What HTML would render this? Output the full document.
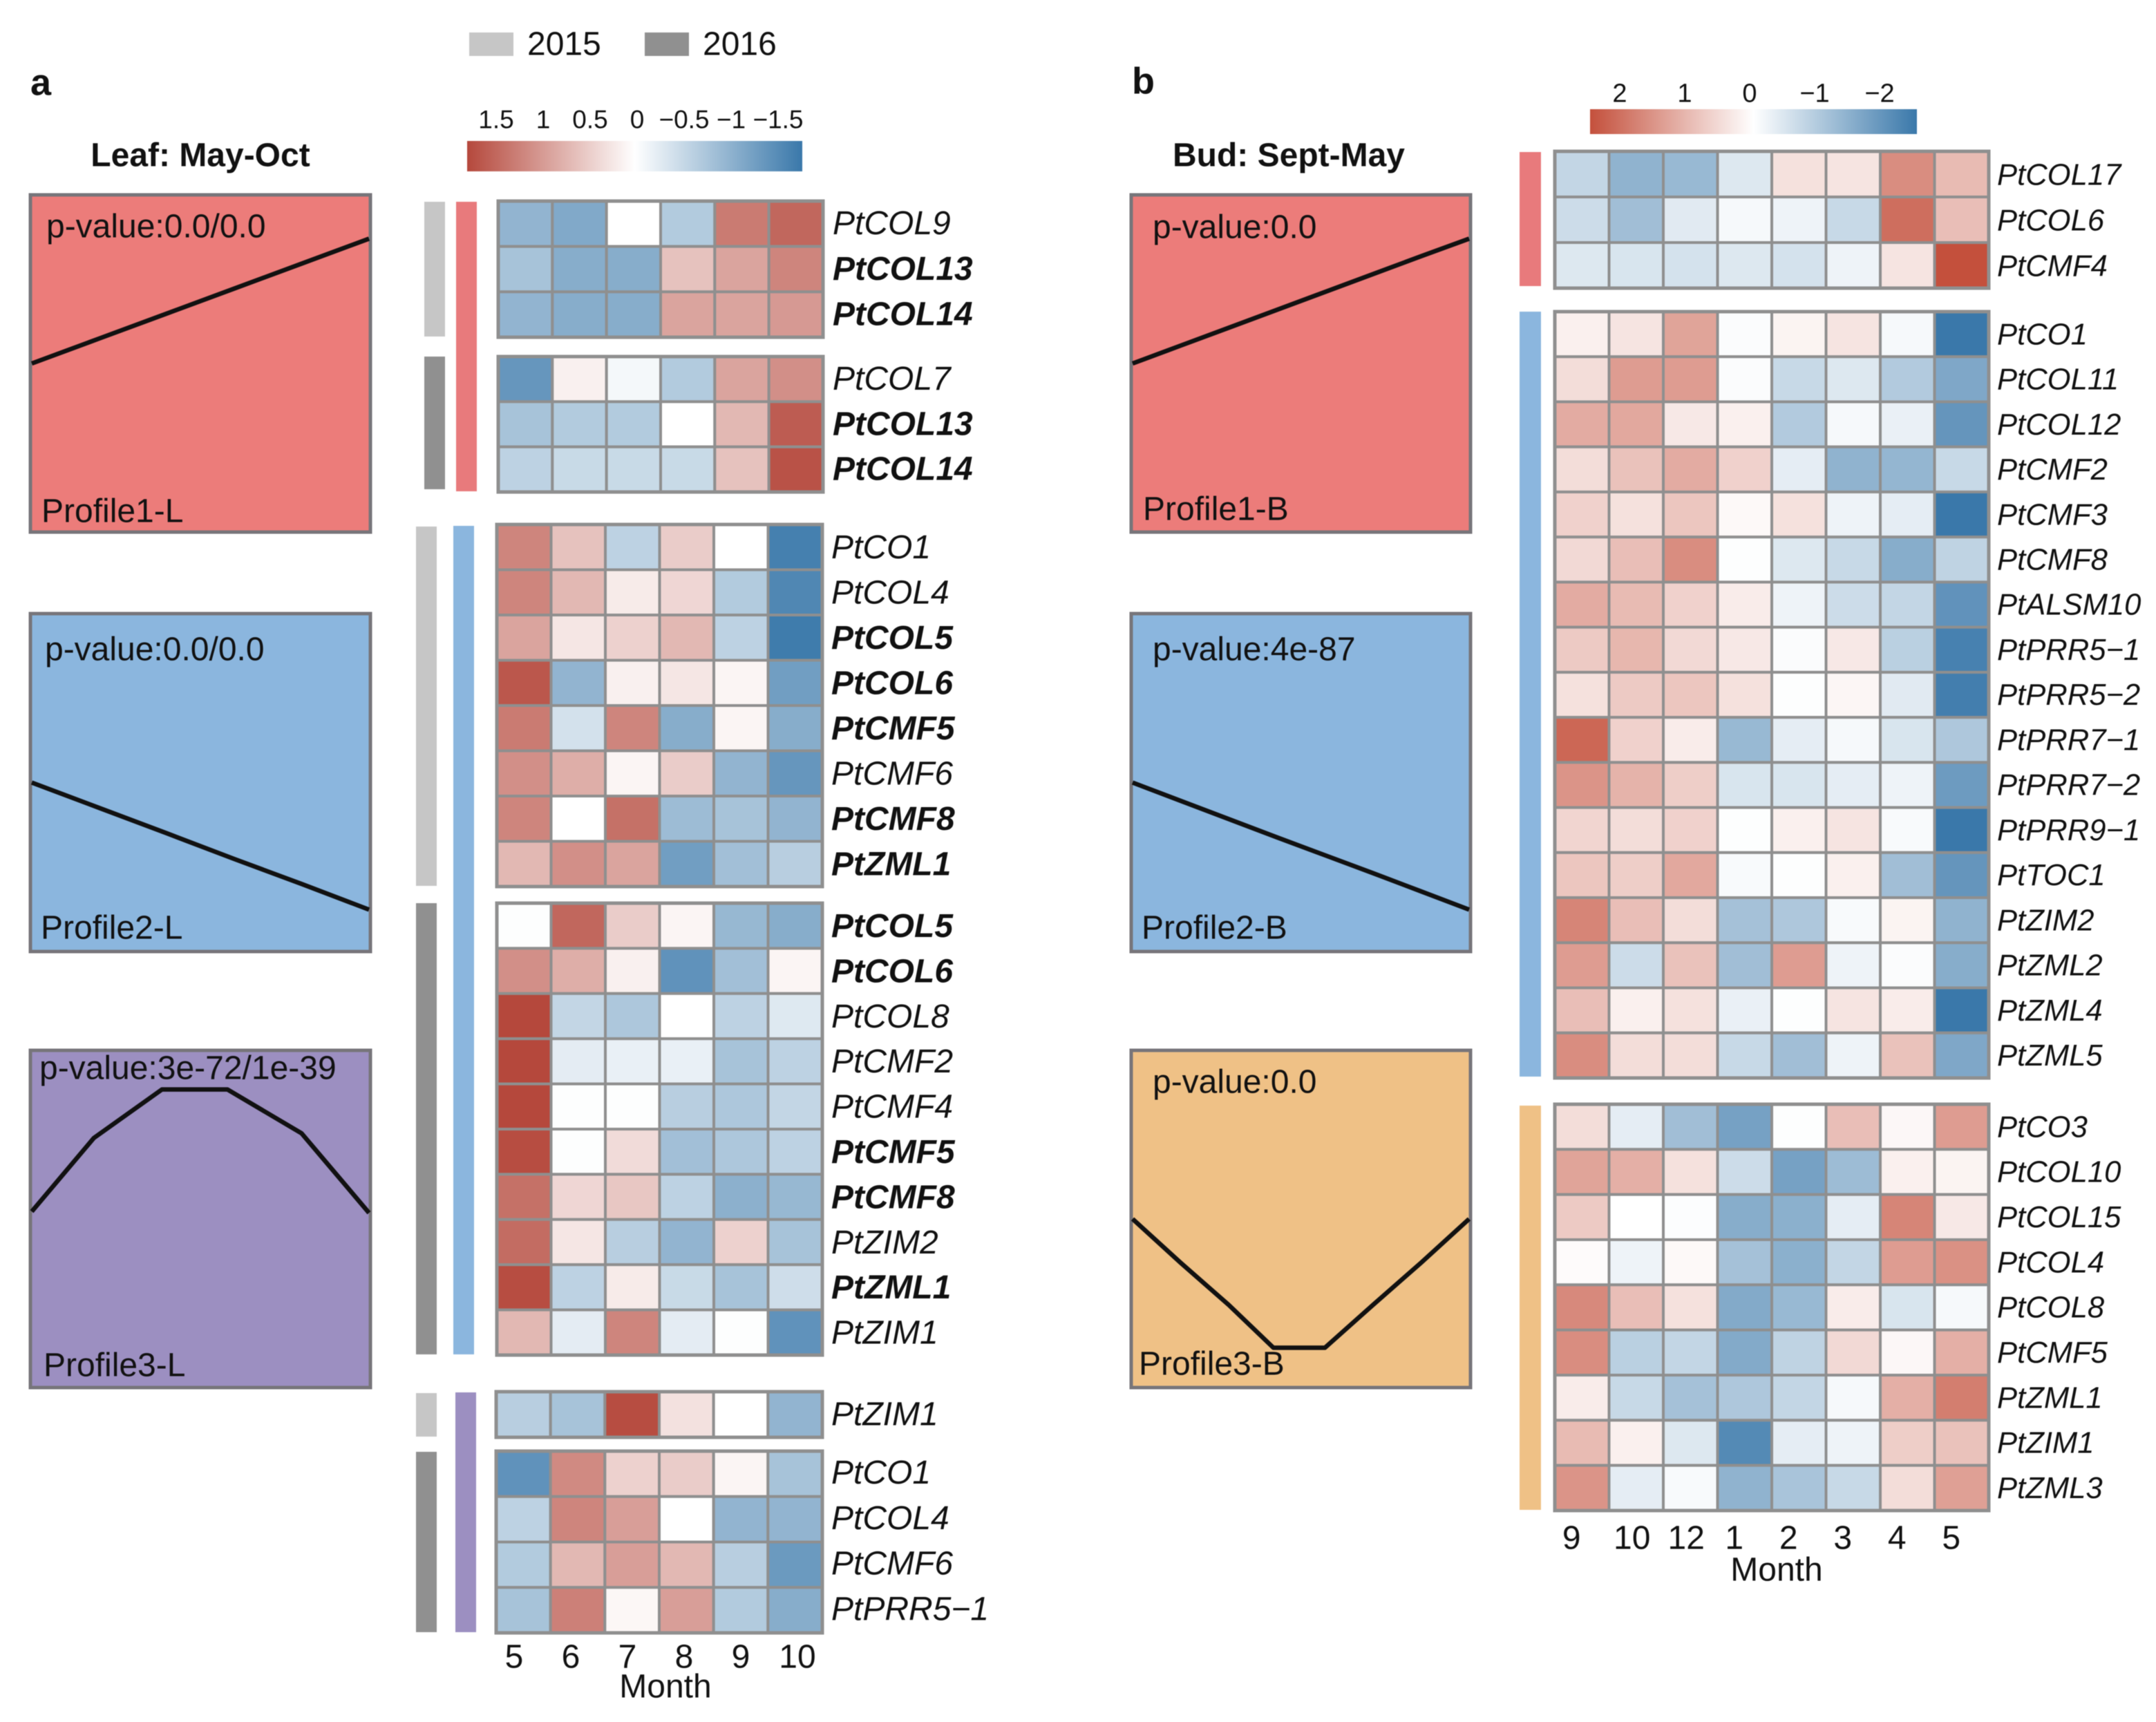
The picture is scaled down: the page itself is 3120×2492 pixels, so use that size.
<!DOCTYPE html>
<html lang="en">
<head>
<meta charset="utf-8">
<title>Clock gene expression heatmaps</title>
<style>
html,body{margin:0;padding:0;background:#fff;}
#chart{display:block;width:3120px;height:2492px;font-family:"Liberation Sans",sans-serif;filter:blur(0.6px);}
</style>
</head>
<body>
<svg id="chart" xmlns="http://www.w3.org/2000/svg" width="3120" height="2492" viewBox="0 0 3120 2492"></svg>
<script>
/* ---------- months ---------- */
const leafMonths = ["5","6","7","8","9","10"];
const budMonths = ["9","10","12","1","2","3","4","5"];

/* ---------- colour-bar ticks ---------- */
const leafScaleTicks = [1.5,1,0.5,0,-0.5,-1,-1.5];
const leafScaleLabels = ["1.5","1","0.5","0","\u22120.5","\u22121","\u22121.5"];
const budScaleTicks = [2,1,0,-1,-2];
const budScaleLabels = ["2","1","0","\u22121","\u22122"];

/* ---------- profile curves (0 = box bottom, 1 = box top) ---------- */
const profileRiseLeaf = [0.5,0.574,0.648,0.722,0.796,0.87];
const profileFallLeaf = [0.5,0.425,0.35,0.274,0.2,0.124];
const profileHumpLeaf = [0.522,0.74,0.884,0.884,0.754,0.518];
const profileHumpTime = [0,0.92,1.93,2.9,4,5];
const profileRiseBud = [0.5,0.553,0.606,0.659,0.712,0.765,0.818,0.87];
const profileFallBud = [0.5,0.446,0.392,0.338,0.285,0.232,0.178,0.124];
const profileDipBud = [0.5,0.37,0.245,0.118,0.118,0.245,0.37,0.5];
const profileDipTime = [0,1,2,2.93,4,5,6,7];

/* ---------- leaf panel ---------- */
const leafG1Genes = ["PtCOL9","*PtCOL13","*PtCOL14"];
const leafG1Values = [
 [-1.0,-1.15,0,-0.7,1.3,1.5],
 [-0.8,-1.1,-1.1,0.6,0.9,1.2],
 [-1.0,-1.1,-1.1,0.9,0.9,1.0]];
const leafG2Genes = ["PtCOL7","*PtCOL13","*PtCOL14"];
const leafG2Values = [
 [-1.4,0.15,-0.1,-0.7,0.9,1.1],
 [-0.8,-0.7,-0.7,0,0.7,1.6],
 [-0.6,-0.5,-0.5,-0.5,0.6,1.7]];
const leafG3Genes = ["PtCO1","PtCOL4","*PtCOL5","*PtCOL6","*PtCMF5","PtCMF6","*PtCMF8","*PtZML1"];
const leafG3Values = [
 [1.2,0.6,-0.6,0.5,0,-1.7],
 [1.2,0.7,0.2,0.4,-0.7,-1.6],
 [0.9,0.25,0.45,0.7,-0.6,-1.75],
 [1.65,-1.0,0.15,0.25,0.1,-1.3],
 [1.3,-0.4,1.2,-1.1,0.1,-1.1],
 [1.1,0.8,0.1,0.5,-1.0,-1.4],
 [1.2,0,1.4,-0.9,-0.8,-1.0],
 [0.7,1.1,0.9,-1.3,-0.85,-0.65]];
const leafG4Genes = ["*PtCOL5","*PtCOL6","PtCOL8","PtCMF2","PtCMF4","*PtCMF5","*PtCMF8","PtZIM2","*PtZML1","PtZIM1"];
const leafG4Values = [
 [-0.02,1.5,0.5,0.1,-0.95,-1.1],
 [1.1,0.8,0.15,-1.45,-0.85,0.1],
 [1.8,-0.55,-0.75,0,-0.6,-0.3],
 [1.8,-0.25,-0.2,-0.2,-0.8,-0.6],
 [1.8,-0.02,-0.02,-0.65,-0.75,-0.55],
 [1.75,-0.02,0.35,-0.85,-0.75,-0.6],
 [1.4,0.4,0.55,-0.6,-1.05,-0.95],
 [1.45,0.25,-0.65,-1.0,0.45,-0.8],
 [1.75,-0.6,0.2,-0.5,-0.8,-0.45],
 [0.7,-0.25,1.2,-0.25,-0.02,-1.45]];
const leafG5Genes = ["PtZIM1"];
const leafG5Values = [
 [-0.65,-0.8,1.75,0.3,0,-1.0]];
const leafG6Genes = ["PtCO1","PtCOL4","PtCMF6","PtPRR5\u22121"];
const leafG6Values = [
 [-1.45,1.15,0.45,0.5,0.1,-0.8],
 [-0.6,1.2,0.95,0,-1.0,-1.0],
 [-0.7,0.7,0.95,0.7,-0.65,-1.35],
 [-0.8,1.25,0.08,0.95,-0.7,-1.1]];

/* ---------- bud panel ---------- */
const budG1Genes = ["PtCOL17","PtCOL6","PtCMF4"];
const budG1Values = [
 [-0.7,-1.3,-1.2,-0.4,0.4,0.35,1.5,0.9],
 [-0.6,-1.1,-0.35,-0.1,-0.2,-0.65,1.9,0.85],
 [-0.4,-0.45,-0.5,-0.4,-0.5,-0.2,0.35,2.4]];
const budG2Genes = ["PtCO1","PtCOL11","PtCOL12","PtCMF2","PtCMF3","PtCMF8","PtALSM10","PtPRR5\u22121","PtPRR5\u22122","PtPRR7\u22121","PtPRR7\u22122","PtPRR9\u22121","PtTOC1","PtZIM2","PtZML2","PtZML4","PtZML5"];
const budG2Values = [
 [0.2,0.35,1.2,-0.05,0.15,0.35,-0.1,-2.3],
 [0.45,1.3,1.3,-0.05,-0.65,-0.4,-0.9,-1.5],
 [1.1,1.15,0.3,0.2,-0.9,-0.1,-0.25,-1.8],
 [0.45,0.8,1.1,0.6,-0.3,-1.3,-1.25,-0.65],
 [0.6,0.4,0.75,0.08,0.4,-0.2,-0.3,-2.3],
 [0.5,0.85,1.5,-0.02,-0.4,-0.65,-1.4,-0.75],
 [1.1,0.9,0.6,0.25,-0.2,-0.6,-0.7,-1.85],
 [0.7,0.95,0.5,0.3,-0.05,0.3,-0.8,-2.15],
 [0.4,0.7,0.75,0.4,-0.02,0.12,-0.35,-2.2],
 [2.0,0.6,0.25,-1.2,-0.3,-0.1,-0.45,-0.95],
 [1.4,1.0,0.65,-0.45,-0.45,-0.3,-0.2,-1.7],
 [0.55,0.45,0.6,-0.02,0.2,0.35,-0.08,-2.3],
 [0.75,0.65,1.15,-0.08,-0.02,0.2,-1.1,-1.8],
 [1.6,0.85,0.45,-1.05,-0.95,-0.08,0.15,-1.3],
 [1.3,-0.6,0.8,-1.1,1.3,-0.2,-0.05,-1.4],
 [0.85,0.2,0.4,-0.25,-0.02,0.35,0.25,-2.3],
 [1.5,0.45,0.45,-0.65,-1.1,-0.2,0.8,-1.5]];
const budG3Genes = ["PtCO3","PtCOL10","PtCOL15","PtCOL4","PtCOL8","PtCMF5","PtZML1","PtZIM1","PtZML3"];
const budG3Values = [
 [0.45,-0.3,-1.1,-1.6,-0.02,0.85,0.1,1.3],
 [1.2,1.05,0.4,-0.6,-1.6,-1.15,0.2,0.15],
 [0.7,0,-0.03,-1.4,-1.35,-0.3,1.6,0.3],
 [0.05,-0.2,0.08,-1.05,-1.35,-0.7,1.3,1.45],
 [1.55,0.85,0.4,-1.45,-1.2,0.25,-0.45,-0.1],
 [1.5,-0.8,-0.7,-1.45,-0.75,0.5,0.1,1.05],
 [0.25,-0.65,-1.05,-0.95,-0.7,-0.1,1.05,1.7],
 [0.9,0.2,-0.4,-2.0,-0.3,-0.2,0.65,0.8],
 [1.4,-0.3,-0.08,-1.3,-1.0,-0.65,0.45,1.25]];

/* ---------- drawing ---------- */
const svg = document.getElementById('chart');
const NS = 'http://www.w3.org/2000/svg';
const RED = [181,72,60], BLUE = [58,120,170];
const RED_B = [196,80,60];
const LEAF_DOMAIN = 1.8, BUD_DOMAIN = 2.3;
const GRID = '#8f8f8f';

function mk(tag, attrs, parent){
  const el = document.createElementNS(NS, tag);
  for (const k in attrs) el.setAttribute(k, attrs[k]);
  (parent || svg).appendChild(el);
  return el;
}
function mix(c, f){
  return 'rgb(' + c.map(v => Math.round(255 + (v - 255) * f)).join(',') + ')';
}
function colorScale(v, domain, red){
  const f = Math.min(1, Math.abs(v) / domain);
  return v >= 0 ? mix(red, f) : mix(BLUE, f);
}
function label(parent, str, x, y, size, opts){
  const o = opts || {};
  const t = mk('text', {x: x, y: y + size * 0.36, 'font-size': size, fill: o.fill || '#111',
    'text-anchor': o.anchor || 'start', 'font-weight': o.weight || 'normal', 'font-style': o.style || 'normal'}, parent);
  t.textContent = str;
  return t;
}
function drawHeatmap(name, genes, values, x0, y0, x1, y1, domain, red, fontSize, labelDx, labelDy){
  const g = mk('g', {});
  
  
  const cols = values[0].length, rows = values.length;
  const xBand = i => x0 + (x1 - x0) * i / cols;
  const yBand = j => y0 + (y1 - y0) * j / rows;
  values.forEach((row, j) => {
    row.forEach((v, i) => {
      const cell = mk('rect', {x: xBand(i), y: yBand(j), width: xBand(1) - xBand(0), height: yBand(1) - yBand(0),
        fill: colorScale(v, domain, red), stroke: GRID, 'stroke-width': 4}, g);
      
      
    });
    const raw = genes[j], bold = raw[0] === '*', txt = bold ? raw.slice(1) : raw;
    const t = label(g, txt, x1 + labelDx, yBand(j) + (yBand(1) - yBand(0)) / 2 + labelDy, fontSize,
      {style: 'italic', weight: bold ? 'bold' : 'normal', fill: '#111'});
    
    
  });
  const frame = mk('rect', {x: x0, y: y0, width: x1 - x0, height: y1 - y0, fill: 'none', stroke: GRID, 'stroke-width': 5}, g);
  
  
}
function drawBar(name, x, y, w, h, fill){
  const r = mk('rect', {x: x, y: y, width: w, height: h, fill: fill});
  
  
}
function drawProfile(name, curve, times, x0, y0, x1, y1, fill, pText, pX, pY, nameText, nX, nY){
  const g = mk('g', {});
  
  
  const box = mk('rect', {x: x0, y: y0, width: x1 - x0, height: y1 - y0, fill: fill, stroke: '#77757a', 'stroke-width': 5}, g);
  
  
  const xAxis = t => x0 + 2 + (x1 - x0 - 4) * t / (curve.length - 1);
  const yAxis = v => y1 - (y1 - y0) * v;
  const line = mk('polyline', {points: curve.map((v, i) => xAxis(times ? times[i] : i) + ',' + yAxis(v)).join(' '),
    fill: 'none', stroke: '#111', 'stroke-width': 6.5, 'stroke-linejoin': 'round'}, g);
  
  
  const pv = label(g, pText, pX, pY, 48);
  
  
  const pn = label(g, nameText, nX, nY, 48);
  
  
}
function drawColorbar(name, id, x0, x1, y0, y1, red, ticks, labels, zeroX, unit, labelY, size){
  const g = mk('g', {});
  
  
  const grad = mk('linearGradient', {id: id, x1: 0, x2: 1, y1: 0, y2: 0}, g);
  [0,0.25,0.5,0.75,1].forEach(p => {
    const f = Math.abs(p - 0.5) * 2;
    mk('stop', {offset: p, 'stop-color': p < 0.5 ? mix(red, f) : mix(BLUE, f)}, grad);
  });
  const r = mk('rect', {x: x0, y: y0, width: x1 - x0, height: y1 - y0, fill: 'url(#' + id + ')'}, g);
  
  
  const xAxis = v => zeroX - v * unit;
  ticks.forEach((v, i) => {
    const t = label(g, labels[i], xAxis(v), labelY, size, {anchor: 'middle'});
    
    
  });
}
function drawMonths(name, months, xAxis, y, titleX, titleY){
  const g = mk('g', {});
  
  
  months.forEach((m, i) => {
    const t = label(g, m, xAxis(i, m), y, 48, {anchor: 'middle'});
    
    
  });
  const title = label(g, 'Month', titleX, titleY, 48, {anchor: 'middle'});
  
  
}

/* panel letters and titles */
let tx = label(svg, 'a', 44, 118, 54, {weight: 'bold'});


tx = label(svg, 'b', 1638, 116, 54, {weight: 'bold'});


tx = label(svg, 'Leaf: May-Oct', 290, 223, 48, {weight: 'bold', anchor: 'middle'});


tx = label(svg, 'Bud: Sept-May', 1865, 223, 48, {weight: 'bold', anchor: 'middle'});



/* year legend */
drawBar('legend-2015-swatch', 679, 47, 64, 34, '#c6c6c6');
tx = label(svg, '2015', 763, 62, 48);


drawBar('legend-2016-swatch', 933, 47, 64, 34, '#909090');
tx = label(svg, '2016', 1017, 62, 48);



/* colour bars */
drawColorbar('leaf-colorbar', 'gradLeaf', 676, 1161, 204, 248, RED, leafScaleTicks, leafScaleLabels, 922, 136, 172, 37);
drawColorbar('bud-colorbar', 'gradBud', 2301, 2774, 158, 194, RED_B, budScaleTicks, budScaleLabels, 2532, 94, 134, 38);

/* profile boxes */
drawProfile('profile1-leaf', profileRiseLeaf, null, 44, 282, 536, 770, '#ec7c7a', 'p-value:0.0/0.0', 67, 326, 'Profile1-L', 60, 738);
drawProfile('profile2-leaf', profileFallLeaf, null, 44, 888, 536, 1377, '#8bb6de', 'p-value:0.0/0.0', 65, 938, 'Profile2-L', 59, 1341);
drawProfile('profile3-leaf', profileHumpLeaf, profileHumpTime, 44, 1520, 536, 2008, '#9c8fc1', 'p-value:3e-72/1e-39', 57, 1544, 'Profile3-L', 63, 1974);
drawProfile('profile1-bud', profileRiseBud, null, 1637, 282, 2128, 770, '#ec7c7a', 'p-value:0.0', 1668, 327, 'Profile1-B', 1654, 735);
drawProfile('profile2-bud', profileFallBud, null, 1637, 888, 2128, 1377, '#8bb6de', 'p-value:4e-87', 1668, 938, 'Profile2-B', 1652, 1341);
drawProfile('profile3-bud', profileDipBud, profileDipTime, 1637, 1520, 2128, 2008, '#efc186', 'p-value:0.0', 1668, 1564, 'Profile3-B', 1648, 1972);

/* side annotation bars, leaf */
drawBar('year-bar-2015-g1', 614, 292, 30, 195, '#c6c6c6');
drawBar('year-bar-2016-g2', 614, 516, 30, 192, '#909090');
drawBar('profile-bar-rise', 660, 292, 30, 419, '#e87a7c');
drawBar('year-bar-2015-g3', 602, 762, 30, 520, '#c6c6c6');
drawBar('year-bar-2016-g4', 602, 1307, 30, 653, '#909090');
drawBar('profile-bar-fall', 656, 761, 30, 1199, '#8bb6de');
drawBar('year-bar-2015-g5', 602, 2016, 30, 63, '#c6c6c6');
drawBar('year-bar-2016-g6', 602, 2101, 30, 261, '#909090');
drawBar('profile-bar-hump', 659, 2015, 30, 347, '#9c8fc1');

/* side annotation bars, bud */
drawBar('bud-bar-rise', 2199, 220, 31, 194, '#e87a7c');
drawBar('bud-bar-fall', 2199, 451, 31, 1107, '#8bb6de');
drawBar('bud-bar-dip', 2199, 1600, 31, 585, '#efc186');

/* heatmaps */
drawHeatmap('leaf-heatmap-g1', leafG1Genes, leafG1Values, 721, 291, 1191, 488, LEAF_DOMAIN, RED, 48, 14, -2);
drawHeatmap('leaf-heatmap-g2', leafG2Genes, leafG2Values, 721, 516, 1191, 712, LEAF_DOMAIN, RED, 48, 14, -2);
drawHeatmap('leaf-heatmap-g3', leafG3Genes, leafG3Values, 719, 759, 1190, 1283, LEAF_DOMAIN, RED, 48, 13, -1);
drawHeatmap('leaf-heatmap-g4', leafG4Genes, leafG4Values, 719, 1307, 1190, 1961, LEAF_DOMAIN, RED, 48, 13, -1);
drawHeatmap('leaf-heatmap-g5', leafG5Genes, leafG5Values, 718, 2014, 1190, 2080, LEAF_DOMAIN, RED, 48, 13, -2);
drawHeatmap('leaf-heatmap-g6', leafG6Genes, leafG6Values, 718, 2100, 1190, 2363, LEAF_DOMAIN, RED, 48, 13, -3);
drawHeatmap('bud-heatmap-g1', budG1Genes, budG1Values, 2250, 219, 2878, 417, BUD_DOMAIN, RED_B, 43.6, 12, 0);
drawHeatmap('bud-heatmap-g2', budG2Genes, budG2Values, 2250, 451, 2878, 1560, BUD_DOMAIN, RED_B, 43.6, 12, -1);
drawHeatmap('bud-heatmap-g3', budG3Genes, budG3Values, 2250, 1598, 2878, 2186, BUD_DOMAIN, RED_B, 43.6, 12, -1);

/* month axes */
const leafTickAxis = (i) => 744 + (1154 - 744) * i / (leafMonths.length - 1);
const budBandWidth = (2878 - 2250) / budMonths.length;
const budTickAxis = (i, m) => 2250 + budBandWidth * (i + 0.5) - (m.length === 1 ? 15 : 6);
drawMonths('leaf-month-axis', leafMonths, leafTickAxis, 2396, 963, 2439);
drawMonths('bud-month-axis', budMonths, budTickAxis, 2224, 2571, 2270);
</script>
</body>
</html>
